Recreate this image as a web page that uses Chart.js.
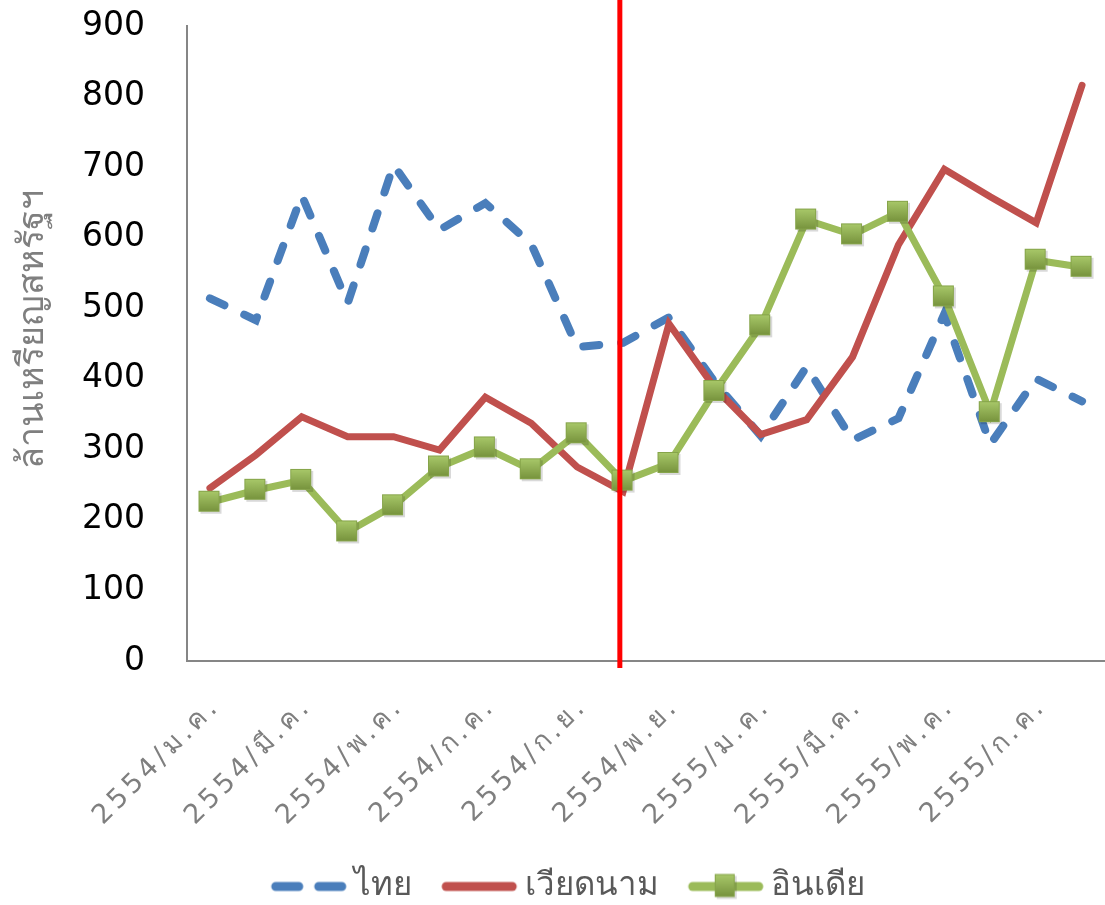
<!DOCTYPE html>
<html>
<head>
<meta charset="utf-8">
<script src="https://cdn.jsdelivr.net/npm/chart.js@4.4.0/dist/chart.umd.min.js"></script>
<style>
  html, body { margin: 0; padding: 0; background: #fff; overflow: hidden; }
  #wrap { width: 1105px; height: 905px; }
</style>
</head>
<body>
<div id="wrap"><canvas id="exportChart"></canvas></div>
<script>
// months 2554/01 .. 2555/08
const months = [
  '2554/ม.ค.', '2554/ก.พ.', '2554/มี.ค.', '2554/เม.ย.', '2554/พ.ค.', '2554/มิ.ย.',
  '2554/ก.ค.', '2554/ส.ค.', '2554/ก.ย.', '2554/ต.ค.', '2554/พ.ย.', '2554/ธ.ค.',
  '2555/ม.ค.', '2555/ก.พ.', '2555/มี.ค.', '2555/เม.ย.', '2555/พ.ค.', '2555/มิ.ย.',
  '2555/ก.ค.', '2555/ส.ค.'
];
const seriesNames = ['ไทย', 'เวียดนาม', 'อินเดีย'];
const thailand = [514, 483, 660, 507, 703, 611, 649, 591, 445, 451, 487, 395, 319, 417, 313, 344, 492, 307, 400, 368];
const vietnam  = [245, 292, 346, 318, 318, 299, 374, 337, 275, 240, 478, 387, 321, 342, 431, 590, 697, 658, 621, 816];
const india    = [225, 242, 256, 183, 220, 275, 302, 271, 322, 255, 280, 382, 475, 625, 604, 636, 516, 352, 568, 558];
const yTicks = { min: 0, max: 900, step: 100 };
const yTitle = 'ล้านเหรียญสหรัฐฯ';
const cutIndex = 8.93; // red divider, just before 2554/ต.ค.

const FONT = "'DejaVu Sans', 'Noto Sans', sans-serif";
const BLUE = '#4a7ebb', RED = '#c0504d', GREEN = '#9bbb59';

function squareImg(w, h) {
  const c = document.createElement('canvas');
  c.width = w + 4; c.height = h + 4;
  const g = c.getContext('2d');
  g.fillStyle = 'rgba(0,0,0,0.15)';
  g.fillRect(3, 3, w, h);
  const gr = g.createLinearGradient(0, 1, 0, h + 1);
  gr.addColorStop(0, '#a9c96a');
  gr.addColorStop(1, '#76923c');
  g.fillStyle = gr;
  g.fillRect(1, 1, w, h);
  g.strokeStyle = '#86a44a';
  g.lineWidth = 1;
  g.strokeRect(1.5, 1.5, w - 1, h - 1);
  return c;
}

function legendImg(kind) {
  const c = document.createElement('canvas');
  c.width = 78; c.height = 30;
  const g = c.getContext('2d');
  g.lineCap = 'round';
  g.lineWidth = 9;
  g.beginPath();
  if (kind === 0) {
    g.strokeStyle = BLUE;
    g.moveTo(6, 15); g.lineTo(29, 15);
    g.moveTo(49, 15); g.lineTo(72, 15);
  } else {
    g.strokeStyle = kind === 1 ? RED : GREEN;
    g.moveTo(6, 15); g.lineTo(72, 15);
  }
  g.stroke();
  if (kind === 2) {
    const sq = squareImg(20, 23);
    g.drawImage(sq, 39 - sq.width / 2, 15 - sq.height / 2);
  }
  return c;
}

const marker = squareImg(21, 21);
const legendIcons = [legendImg(0), legendImg(1), legendImg(2)];

const cutLine = {
  id: 'cutLine',
  beforeLayout(chart) {
    // let the plot run right up to the canvas edge
    chart.scales.x.getPadding = () => ({ left: 0, top: 0, right: 0, bottom: 0 });
  },
  afterLayout(chart) {
    // wider letter spacing on the month labels, title nudged up like the original
    const xs = chart.scales.x, ys = chart.scales.y;
    if (!xs._spaced) {
      const drawLabels = xs.drawLabels;
      xs.drawLabels = function (area) {
        this.ctx.save();
        this.ctx.letterSpacing = '4px';
        this.ctx.translate(6, 0);
        drawLabels.call(this, area);
        this.ctx.restore();
      };
      xs._spaced = true;
    }
    if (!ys._moved) {
      const drawTitle = ys.drawTitle;
      ys.drawTitle = function (area) {
        this.ctx.save();
        this.ctx.translate(0, -14);
        drawTitle.call(this, area);
        this.ctx.restore();
      };
      ys._moved = true;
    }
    // legend sits a bit lower and right of centre in the original
    const lg = chart.legend;
    lg.left += 20; lg.right += 20;
    lg.top += 8; lg.bottom += 8;
  },
  afterDatasetsDraw(chart) {
    const x = chart.scales.x.getPixelForValue(cutIndex);
    const ctx = chart.ctx;
    ctx.save();
    ctx.strokeStyle = '#ff0000';
    ctx.lineWidth = 5;
    ctx.beginPath();
    ctx.moveTo(x, 0);
    ctx.lineTo(x, chart.chartArea.bottom + 7);
    ctx.stroke();
    ctx.restore();
  }
};

new Chart(document.getElementById('exportChart'), {
  type: 'line',
  data: {
    labels: months,
    datasets: [{
      label: seriesNames[0],
      data: thailand,
      borderColor: BLUE,
      borderWidth: 8,
      borderDash: [16, 22],
      borderCapStyle: 'round',
      pointRadius: 0,
      order: 3
    }, {
      label: seriesNames[1],
      data: vietnam,
      borderColor: RED,
      borderWidth: 7,
      borderCapStyle: 'round',
      pointRadius: 0,
      order: 2
    }, {
      label: seriesNames[2],
      data: india,
      borderColor: GREEN,
      borderWidth: 7,
      pointStyle: marker,
      pointRadius: 10,
      order: 1
    }]
  },
  options: {
    responsive: true,
    maintainAspectRatio: false,
    animation: false,
    events: [],
    layout: { autoPadding: false, padding: { top: 26, left: 0, right: 0, bottom: 0 } },
    scales: {
      x: {
        offset: true,
        grid: { display: true, drawOnChartArea: false, drawTicks: true, tickLength: 30,
                color: 'transparent', tickColor: 'transparent' },
        border: { display: true, color: '#868686', width: 2 },
        ticks: {
          autoSkip: false,
          minRotation: 45,
          maxRotation: 45,
          color: '#7f7f7f',
          font: { family: FONT, size: 27 },
          padding: 0,
          callback: (v, i) => (i % 2 === 0 ? months[i] : '')
        },
        afterFit: s => {
          s.height = s.chart.height - 661 - s.chart.legend.height;
        }
      },
      y: {
        min: yTicks.min,
        max: yTicks.max,
        grid: { display: true, drawOnChartArea: false, drawTicks: true, tickLength: 42,
                color: 'transparent', tickColor: 'transparent' },
        border: { display: true, color: '#868686', width: 2 },
        ticks: {
          stepSize: yTicks.step,
          color: '#000',
          font: { family: FONT, size: 33 },
          padding: 0
        },
        title: {
          display: true,
          text: yTitle,
          color: '#7f7f7f',
          font: { family: FONT, size: 36 },
          padding: { top: 12, bottom: 0 }
        },
        afterFit: s => { s.width = 187; }
      }
    },
    plugins: {
      tooltip: { enabled: false },
      legend: {
        position: 'bottom',
        labels: {
          usePointStyle: true,
          pointStyleWidth: 58,
          color: '#595959',
          font: { family: FONT, size: 33 },
          padding: 38,
          generateLabels: chart => chart.data.datasets.map((ds, i) => ({
            text: ds.label,
            pointStyle: legendIcons[i],
            fontColor: '#595959',
            fillStyle: 'transparent',
            strokeStyle: 'transparent',
            lineWidth: 0,
            hidden: !chart.isDatasetVisible(i),
            datasetIndex: i
          }))
        }
      }
    }
  },
  plugins: [cutLine]
});
</script>
</body>
</html>
